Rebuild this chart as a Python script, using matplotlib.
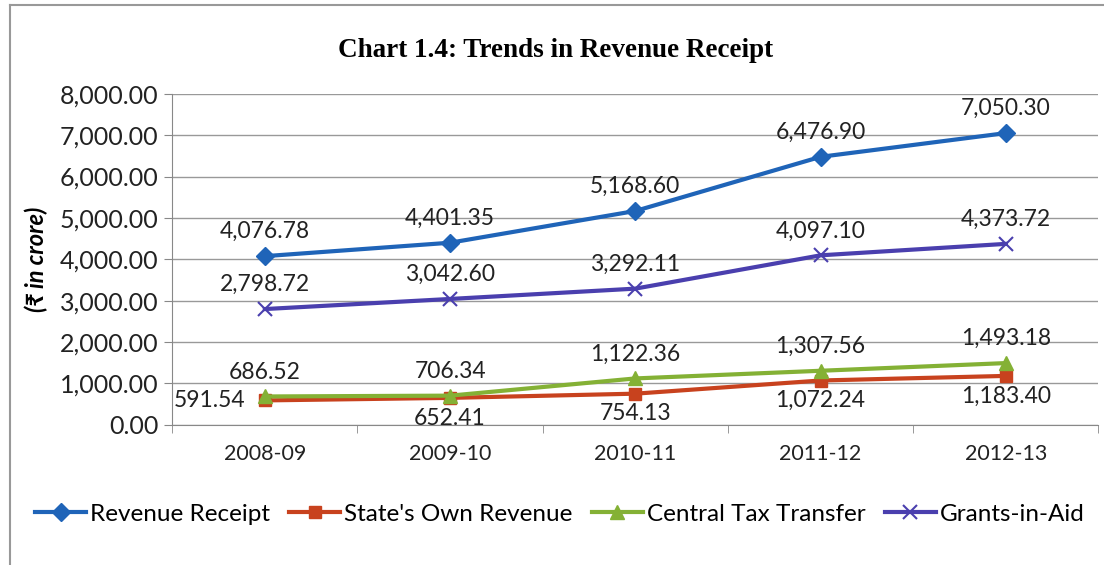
import matplotlib
matplotlib.use("Agg")
import matplotlib.pyplot as plt
import numpy as np
from matplotlib.ticker import FuncFormatter

years = ["2008-09", "2009-10", "2010-11", "2011-12", "2012-13"]
revenue_receipt = [4076.78, 4401.35, 5168.60, 6476.90, 7050.30]
states_own = [591.54, 652.41, 754.13, 1072.24, 1183.40]
central_tax = [686.52, 706.34, 1122.36, 1307.56, 1493.18]
grants = [2798.72, 3042.60, 3292.11, 4097.10, 4373.72]

font = ["Lato", "DejaVu Sans"]
plt.rcParams['font.family'] = font

fig = plt.figure(figsize=(11.04, 5.65), dpi=100)
ax = fig.add_axes([0.156, 0.248, 0.839, 0.586])
x = np.arange(len(years))

ax.plot(x, revenue_receipt, color="#1f64b8", lw=3, marker="D", ms=9, label="Revenue Receipt")
ax.plot(x, states_own, color="#c8421e", lw=3, marker="s", ms=9, label="State's Own Revenue")
ax.plot(x, central_tax, color="#84b135", lw=3, marker="^", ms=10, label="Central Tax Transfer")
ax.plot(x, grants, color="#4a3fae", lw=3, marker="x", ms=10, mew=1.5, label="Grants-in-Aid")

fs = 16.5
for i in range(len(x)):
    ax.annotate(f"{revenue_receipt[i]:,.2f}", (x[i], revenue_receipt[i]), xytext=(0, 10),
                textcoords="offset points", ha="center", va="bottom", fontsize=fs, color="#222222")
    ax.annotate(f"{grants[i]:,.2f}", (x[i], grants[i]), xytext=(0, 10),
                textcoords="offset points", ha="center", va="bottom", fontsize=fs, color="#222222")
    ax.annotate(f"{central_tax[i]:,.2f}", (x[i], central_tax[i]), xytext=(0, 10),
                textcoords="offset points", ha="center", va="bottom", fontsize=fs, color="#222222")
    if i == 0:
        ax.annotate(f"{states_own[i]:,.2f}", (x[i], states_own[i]), xytext=(-14, 0),
                    textcoords="offset points", ha="right", va="center", fontsize=fs, color="#222222")
    else:
        ax.annotate(f"{states_own[i]:,.2f}", (x[i], states_own[i]), xytext=(0, -7),
                    textcoords="offset points", ha="center", va="top", fontsize=fs, color="#222222")

ax.set_xlim(-0.5, len(years) - 0.5)
ax.set_ylim(0, 8000)
ax.set_yticks(np.arange(0, 8001, 1000))
ax.yaxis.set_major_formatter(FuncFormatter(lambda v, p: f"{v:,.2f}"))
ax.set_xticks(x)
ax.set_xticklabels(years)
ax.set_xticks(np.arange(-0.5, len(years), 1), minor=True)
ax.tick_params(axis="x", which="major", length=0, pad=14, labelsize=15.5, labelcolor="#222222")
ax.tick_params(axis="x", which="minor", length=6, color="#888888")
ax.tick_params(axis="y", length=6, color="#888888", labelsize=18, labelcolor="#222222", pad=4)
ax.grid(axis="y", color="#999999", lw=1)
ax.set_axisbelow(True)
for s in ["top", "right"]:
    ax.spines[s].set_visible(False)
for s in ["left", "bottom"]:
    ax.spines[s].set_color("#888888")

ax.set_ylabel("(₹ in crore)", fontsize=17, fontweight="bold", fontstyle="italic", labelpad=8)

fig.text(0.503, 0.91, "Chart 1.4: Trends in Revenue Receipt", ha="center", va="center",
         fontsize=19.5, fontweight="bold", family="Liberation Serif")

fig.legend(loc="center", bbox_to_anchor=(0.507, 0.09), ncol=4, frameon=False, fontsize=17.5,
           handlelength=2.1, handletextpad=0.15, columnspacing=0.8)

fig.add_artist(plt.Line2D([0.009, 0.009], [0, 0.992], color="#999999", lw=1.5, transform=fig.transFigure))
fig.add_artist(plt.Line2D([0.009, 1], [0.992, 0.992], color="#999999", lw=1.5, transform=fig.transFigure))

fig.savefig("out.png", dpi=100)
